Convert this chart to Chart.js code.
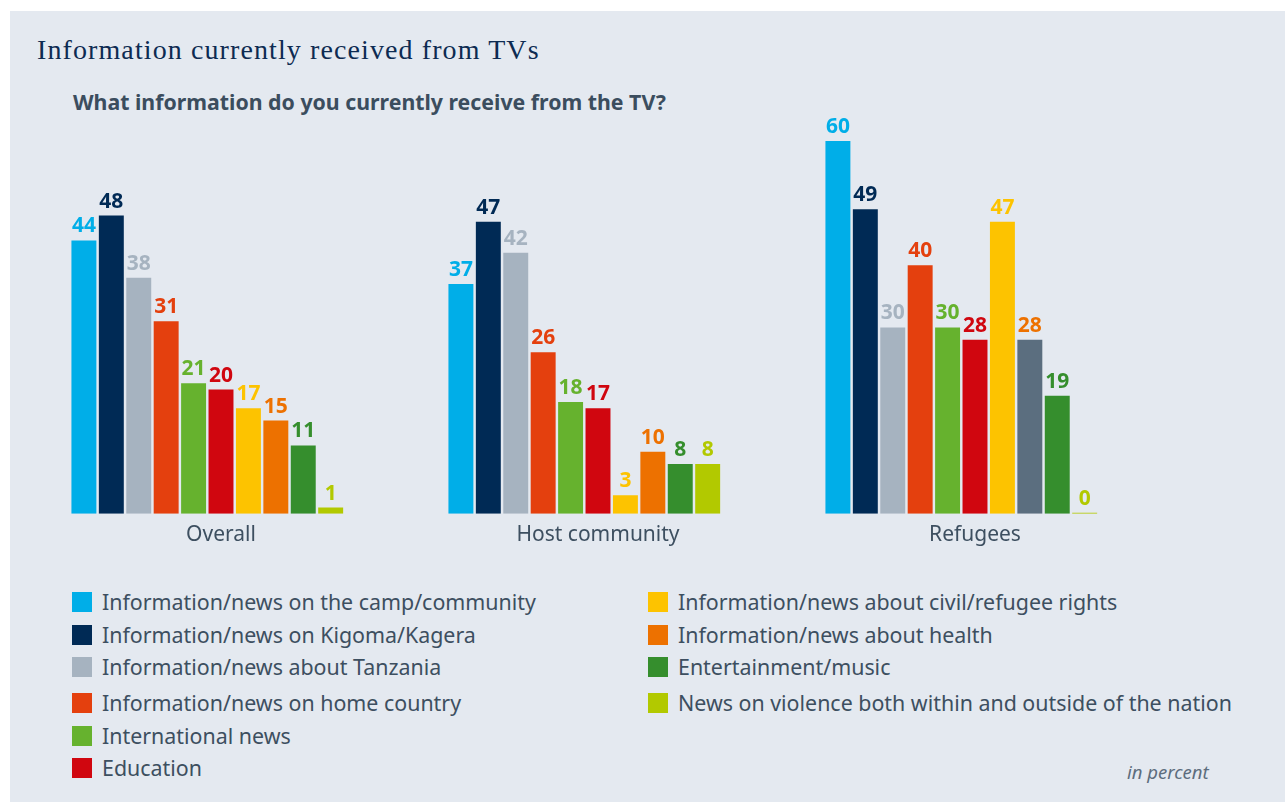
<!DOCTYPE html>
<html>
<head>
<meta charset="utf-8">
<script src="https://cdn.jsdelivr.net/npm/chart.js@4.4.1/dist/chart.umd.min.js"></script>
<style>
  html, body { margin: 0; padding: 0; background: #ffffff; }
  body { width: 1285px; height: 802px; position: relative; overflow: hidden; font-family: "Noto Sans", sans-serif; }
  .panel { position: absolute; left: 10px; top: 11px; right: 0; bottom: 0; background: #e4e9f0; }
  .title { position: absolute; left: 37px; top: 34px; font-family: "Liberation Serif", serif; font-size: 28px; letter-spacing: 1.1px; color: #0d2b52; white-space: nowrap; }
  .subtitle { position: absolute; left: 73px; top: 87px; font-size: 21.3px; font-weight: bold; color: #3b4d5e; white-space: nowrap; }
  #chartBox { position: absolute; left: 0; top: 100px; }
  .legend-item { position: absolute; display: flex; align-items: center; font-size: 21.4px; color: #3d4f60; white-space: nowrap; }
  .legend-item .swatch { width: 20px; height: 20px; margin-right: 10px; flex: none; }
  .note { position: absolute; left: 1127px; top: 759px; font-size: 18.5px; font-style: italic; color: #5d6d7d; }
</style>
</head>
<body>
<div class="panel"></div>
<div class="title">Information currently received from TVs</div>
<div class="subtitle">What information do you currently receive from the TV?</div>
<div id="chartBox"><canvas id="tvChart" width="1285" height="460"></canvas></div>
<div id="legend"></div>
<div class="note">in percent</div>

<script>
// Groups along the x axis
const groups = ['Overall', 'Host community', 'Refugees'];

// Answer options (one bar series each)
const seriesNames = [
  'Information/news on the camp/community',
  'Information/news on Kigoma/Kagera',
  'Information/news about Tanzania',
  'Information/news on home country',
  'International news',
  'Education',
  'Information/news about civil/refugee rights',
  'Information/news about health',
  'Entertainment/music',
  'News on violence both within and outside of the nation'
];

// Shares in percent: Overall, Host community, Refugees
const campNews = [44, 37, 60];
const kigomaNews = [48, 47, 49];
const tanzaniaNews = [38, 42, 30];
const homeCountryNews = [31, 26, 40];
const internationalNews = [21, 18, 30];
const education = [20, 17, 28];
const rightsNews = [17, 3, 47];
const healthNews = [15, 10, 28];
const entertainment = [11, 8, 19];
const violenceNews = [1, 8, 0];

const seriesValues = [
  campNews, kigomaNews, tanzaniaNews, homeCountryNews, internationalNews,
  education, rightsNews, healthNews, entertainment, violenceNews
];

// Colours
const seriesColors = [
  '#00aee8', '#002a55', '#a6b3c0', '#e4400e', '#66b22e',
  '#d0060f', '#fdc300', '#ed7100', '#358e2d', '#b2c900'
];
// the refugee bar of the health series is drawn in slate
const healthBarColors = ['#ed7100', '#ed7100', '#5b6e7f'];

const datasets = seriesValues.map((values, i) => ({
  label: seriesNames[i],
  data: values,
  backgroundColor: i === 7 ? healthBarColors : seriesColors[i],
  valueColor: seriesColors[i],
  borderWidth: 0
}));
// empty trailing slot in every group
datasets.push({ label: '', data: [null, null, null], backgroundColor: 'transparent' });

// Value labels above the bars
const barValueLabels = {
  id: 'barValueLabels',
  afterDatasetsDraw(chart) {
    const ctx = chart.ctx;
    ctx.save();
    ctx.font = 'bold 21px "Noto Sans"';
    ctx.textAlign = 'center';
    ctx.textBaseline = 'alphabetic';
    chart.data.datasets.forEach((ds, i) => {
      if (!ds.valueColor) return;
      chart.getDatasetMeta(i).data.forEach((bar, j) => {
        const v = ds.data[j];
        if (v == null) return;
        ctx.fillStyle = ds.valueColor;
        ctx.fillText(String(v), bar.x, bar.y - 8);
      });
    });
    ctx.restore();
  }
};

new Chart(document.getElementById('tvChart'), {
  type: 'bar',
  data: { labels: groups, datasets: datasets },
  options: {
    responsive: false,
    animation: false,
    layout: { padding: { left: 32.5, right: 121.5, top: 41, bottom: 3 } },
    categoryPercentage: 0.8,
    barPercentage: 0.91,
    minBarLength: 1,
    plugins: {
      legend: { display: false },
      tooltip: { enabled: true }
    },
    scales: {
      x: {
        grid: { display: false, drawTicks: false },
        border: { display: false },
        ticks: {
          color: '#3d4f60',
          padding: 9,
          font: { family: 'Noto Sans', size: 21 }
        }
      },
      y: {
        display: false,
        min: 0,
        max: 60
      }
    }
  },
  plugins: [barValueLabels]
});

// Legend in two columns
const legendRowTops = [591, 624, 656, 692, 725, 757];
const legendColumns = [72, 648];
const legendEl = document.getElementById('legend');
seriesNames.forEach((name, i) => {
  const col = i < 6 ? 0 : 1;
  const row = i < 6 ? i : i - 6;
  const item = document.createElement('div');
  item.className = 'legend-item';
  item.style.left = legendColumns[col] + 'px';
  item.style.top = (legendRowTops[row] - 4) + 'px';
  item.innerHTML = '<span class="swatch" style="background:' + seriesColors[i] + '"></span><span>' + name + '</span>';
  legendEl.appendChild(item);
});
</script>
</body>
</html>
